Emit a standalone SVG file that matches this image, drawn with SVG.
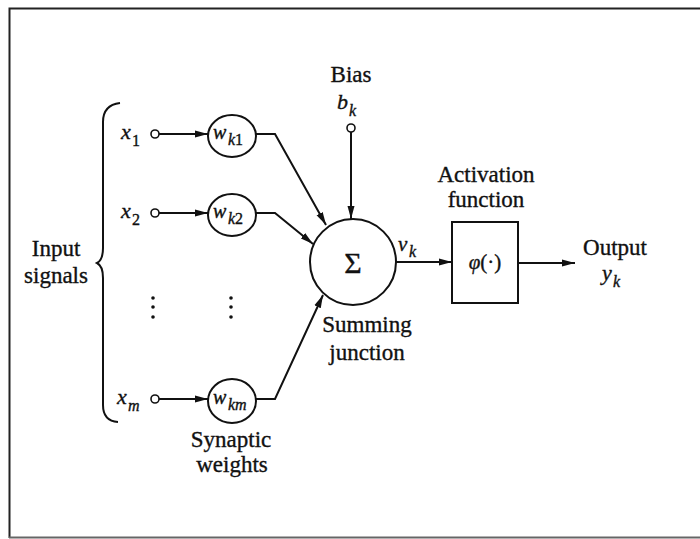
<svg xmlns="http://www.w3.org/2000/svg" width="700" height="539" viewBox="0 0 700 539" font-family="'Liberation Serif','DejaVu Serif',serif">
<defs>
<marker id="ah" markerWidth="14" markerHeight="8" refX="13" refY="4" orient="auto" markerUnits="userSpaceOnUse">
<path d="M0,0.5 L13,4 L0,7.5 Z" fill="#111"/>
</marker>
<style>
text{font-family:"Liberation Serif","DejaVu Serif",serif;fill:#111;stroke:#111;stroke-width:0.35}
.lbl{font-size:23px;text-anchor:middle}
.it{font-style:italic}
.sub{font-style:italic;font-size:16px}
.up{font-style:normal}
.ln{fill:none;stroke:#111;stroke-width:2}
.node{fill:#fff;stroke:#111;stroke-width:2}
.term{fill:#fff;stroke:#111;stroke-width:1.6}
</style>
</defs>
<rect width="700" height="539" fill="#fff"/>
<g id="frame">
<path d="M9.5,538 V8.5 H700" fill="none" stroke="#222" stroke-width="2"/>
<path d="M9,537.5 H700" fill="none" stroke="#666" stroke-width="2"/>
</g>
<g id="connectors">
<line class="ln" x1="159" y1="134" x2="208" y2="134" marker-end="url(#ah)"/>
<line class="ln" x1="159" y1="213" x2="208" y2="213" marker-end="url(#ah)"/>
<line class="ln" x1="159" y1="399" x2="208" y2="399" marker-end="url(#ah)"/>
<polyline class="ln" points="256,134 275,134 326,225" marker-end="url(#ah)"/>
<polyline class="ln" points="256,213 275,213 313,244" marker-end="url(#ah)"/>
<polyline class="ln" points="256,399 275,399 323,295" marker-end="url(#ah)"/>
<line class="ln" x1="351" y1="132" x2="351" y2="219" marker-end="url(#ah)"/>
<line class="ln" x1="396" y1="262" x2="452" y2="262" marker-end="url(#ah)"/>
<line class="ln" x1="518" y1="263" x2="575" y2="263" marker-end="url(#ah)"/>
</g>
<g id="input-brace">
<path class="ln" d="M120,103 Q103,105 103,122 V248 Q103,260 97,263 Q103,266 103,278 V405 Q103,421 118,422"/>
<text class="lbl" x="56" y="256">Input</text>
<text class="lbl" x="56" y="283">signals</text>
</g>
<g id="x1">
<text class="it" x="121" y="139" font-size="22">x</text><text class="sub up" x="132" y="146">1</text>
<circle class="term" cx="155" cy="134" r="4"/>
</g>
<g id="x2">
<text class="it" x="121" y="218" font-size="22">x</text><text class="sub up" x="132" y="225">2</text>
<circle class="term" cx="155" cy="213" r="4"/>
</g>
<g id="xm">
<text class="it" x="117" y="404" font-size="22">x</text><text class="sub" x="128" y="411">m</text>
<circle class="term" cx="155" cy="399" r="4"/>
</g>
<g id="dots">
<circle cx="153" cy="298" r="1.8" fill="#111"/><circle cx="153" cy="307" r="1.8" fill="#111"/><circle cx="153" cy="317" r="1.8" fill="#111"/>
<circle cx="231" cy="298" r="1.8" fill="#111"/><circle cx="231" cy="307" r="1.8" fill="#111"/><circle cx="231" cy="317" r="1.8" fill="#111"/>
</g>
<g id="wk1">
<ellipse class="node" cx="232" cy="136" rx="24" ry="21"/>
<text class="it" x="213" y="139" font-size="20">w</text><text class="sub" x="228" y="145">k<tspan class="up">1</tspan></text>
</g>
<g id="wk2">
<ellipse class="node" cx="232" cy="215" rx="24" ry="21"/>
<text class="it" x="213" y="218" font-size="20">w</text><text class="sub" x="228" y="224">k<tspan class="up">2</tspan></text>
</g>
<g id="wkm">
<ellipse class="node" cx="232" cy="401" rx="24" ry="22"/>
<text class="it" x="213" y="404" font-size="20">w</text><text class="sub" x="228" y="410">km</text>
</g>
<g id="weights-label">
<text class="lbl" x="231" y="447">Synaptic</text>
<text class="lbl" x="232" y="472">weights</text>
</g>
<g id="bias">
<text class="lbl" x="351" y="82">Bias</text>
<text class="it" x="337" y="109" font-size="22">b</text><text class="sub" x="349" y="116">k</text>
<circle class="term" cx="351" cy="128" r="4"/>
</g>
<g id="sum">
<circle class="node" cx="353" cy="262" r="43"/>
<text x="353" y="273" font-size="30" text-anchor="middle">Σ</text>
<text class="lbl" x="367" y="332">Summing</text>
<text class="lbl" x="367" y="360">junction</text>
</g>
<g id="vk">
<text class="it" x="398" y="251" font-size="21">v</text><text class="sub" x="409" y="257">k</text>
</g>
<g id="activation">
<rect class="node" x="452" y="222" width="66" height="81"/>
<text x="485" y="269" font-size="21" text-anchor="middle"><tspan class="it">φ</tspan>(·)</text>
<text class="lbl" x="486" y="182">Activation</text>
<text class="lbl" x="486" y="207">function</text>
</g>
<g id="output">
<text class="lbl" x="615" y="255">Output</text>
<text class="it" x="602" y="280" font-size="22">y</text><text class="sub" x="613" y="287">k</text>
</g>
</svg>
